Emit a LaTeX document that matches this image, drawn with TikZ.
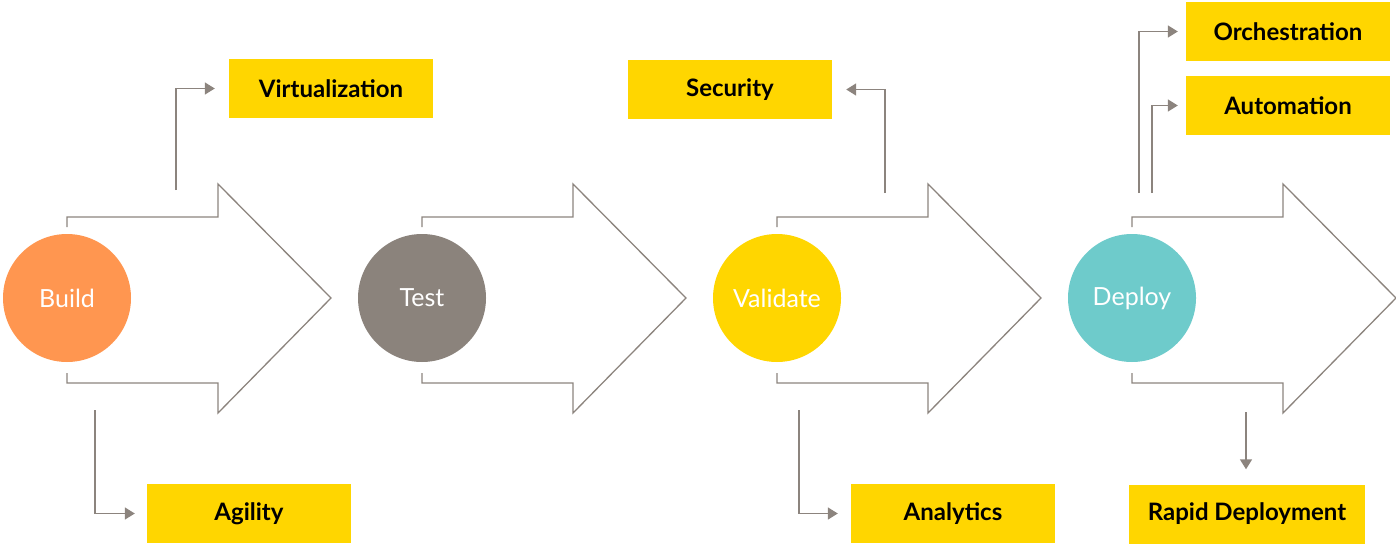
\documentclass[tikz,border=0pt]{standalone}
\usepackage{fontspec}
\setmainfont{Lato}
\usetikzlibrary{arrows.meta, positioning}
\definecolor{linegray}{RGB}{140,132,126}
\definecolor{buildorange}{RGB}{255,150,80}
\definecolor{testgray}{RGB}{139,131,124}
\definecolor{boxyellow}{RGB}{255,214,0}
\definecolor{deployteal}{RGB}{110,203,203}
\tikzstyle{stage} = [circle, minimum size=128pt, inner sep=0pt, text=white, font=\fontsize{25}{30}\selectfont]
\tikzstyle{callout} = [rectangle, minimum width=204pt, minimum height=59pt, fill=boxyellow, font=\fontsize{24}{29}\selectfont\bfseries]
\tikzstyle{outline} = [draw=linegray, line width=1.3pt]
\tikzstyle{link} = [draw=linegray, line width=1.5pt, -{Triangle[length=10pt, width=12pt]}]

\begin{document}
\begin{tikzpicture}[x=1pt, y=-1pt, node distance=355pt]
    \useasboundingbox (0,0) rectangle (1396,546);
    % Stages
    \node (build) [stage, fill=buildorange] at (67,298) {Build};
    \node (test) [stage, fill=testgray, right of=build] {Test};
    \node (validate) [stage, fill=boxyellow, right of=test] {Validate};
    \node (deploy) [stage, fill=deployteal, right of=validate] {Deploy};

    % Big arrows
    \foreach \s in {build, test, validate, deploy}
        \draw [outline] ([shift={(0,-71)}]\s.center) -- ++(0,-10) -- ++(151,0) -- ++(0,-33)
            -- ++(113,114) -- ++(-113,115) -- ++(0,-30) -- ++(-151,0) -- ++(0,-10);

    % Callouts
    \node (virt) [callout] at (331,88.5) {Virtualization};
    \node (agility) [callout] at (249,513.5) {Agility};
    \node (security) [callout] at (730,89.5) {Security};
    \node (analytics) [callout] at (953,513.5) {Analytics};
    \node (orch) [callout] at (1288,31.5) {Orchestration};
    \node (autom) [callout] at (1288,105.5) {Automation};
    \node (rapid) [callout, minimum width=236pt] at (1247,514) {Rapid Deployment};

    % Free ends
    \coordinate (v0) at (176,190);
    \coordinate (a0) at (95,410);
    \coordinate (s0) at (885,193);
    \coordinate (an0) at (799,410);
    \coordinate (o0) at (1139,193);
    \coordinate (au0) at (1152,193);
    \coordinate (r0) at (1246,412);

    % Arrows
    \draw [link, shorten >=14pt] (v0) |- (virt);
    \draw [link, shorten >=12pt] (a0) |- (agility);
    \draw [link, shorten >=14pt] (s0) |- (security);
    \draw [link, shorten >=13pt] (an0) |- (analytics);
    \draw [link, shorten >=8pt] (o0) |- (orch);
    \draw [link, shorten >=8pt] (au0) |- (autom);
    \draw [link, shorten >=15pt] (r0) -- (r0 |- rapid.north);
\end{tikzpicture}
\end{document}
